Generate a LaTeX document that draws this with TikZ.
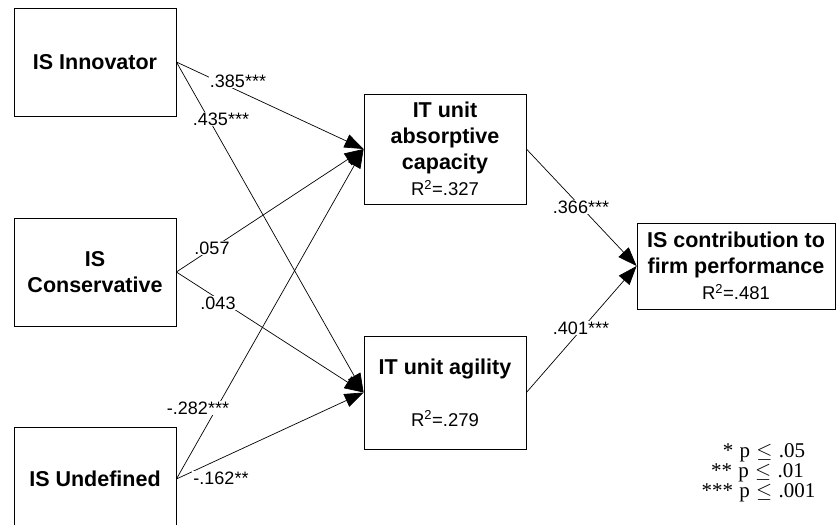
\documentclass[tikz,border=0pt]{standalone}
\usepackage{fontspec}
\setmainfont{Liberation Sans}
\newfontfamily\legendfont{Liberation Serif}
\newcommand\rsqtext{\fontsize{18.5}{26}\selectfont\mdseries}
\newcommand\lgsp{\hspace{0.3em}}
\usetikzlibrary{arrows.meta}
\tikzset{
  box/.style={draw=black, line width=0.8pt, rectangle, minimum width=162pt, inner sep=0pt,
    align=center, font=\fontsize{21.5}{26}\selectfont\bfseries},
  arr/.style={draw=black, line width=0.7pt, -{Triangle[length=19pt,width=14pt]}},
  coef/.style={fill=white, inner sep=1pt, font=\fontsize{18}{20}\selectfont},
  legendtxt/.style={inner sep=0pt, font=\legendfont\fontsize{21}{20}\selectfont}
}
\begin{document}
\begin{tikzpicture}[x=1pt,y=-1pt]
\useasboundingbox (0,0) rectangle (836,525);
\clip (0,0) rectangle (836,525);
\fill[white] (0,0) rectangle (836,525);

\node[box, minimum height=108pt] (inn) at (95,62) {IS Innovator};
\node[box, minimum height=108pt] (con) at (95,272) {IS\\Conservative};
\node[box, minimum height=104pt] (und) at (95,479) {IS Undefined};
\node[box, minimum height=110pt] (abs) at (445,149) {IT unit\\absorptive\\capacity\\{\rsqtext R\textsuperscript{2}=.327}};
\node[box, minimum height=113pt] (agi) at (445,392.5) {IT unit agility\\[26pt]{\rsqtext R\textsuperscript{2}=.279}};
\node[box, minimum width=198pt, minimum height=86pt] (isc) at (736,266) {IS contribution to\\firm performance\\{\rsqtext R\textsuperscript{2}=.481}};

\draw[arr] (inn.east) -- (abs.west);
\draw[arr] (inn.east) -- (agi.west);
\draw[arr] (con.east) -- (abs.west);
\draw[arr] (con.east) -- (agi.west);
\draw[arr] (und.east) -- (abs.west);
\draw[arr] (und.east) -- (agi.west);
\draw[arr] (abs.east) -- (isc.west);
\draw[arr] (agi.east) -- (isc.west);

\node[coef] (c1) at (238,81) {.385***};
\node[coef] (c2) at (221,119) {.435***};
\node[coef] (c3) at (212,248) {.057};
\node[coef] (c4) at (218,303) {.043};
\node[coef] (c5) at (198,408) {-.282***};
\node[coef] (c6) at (221,478) {-.162**};
\node[coef] (c7) at (581,207) {.366***};
\node[coef] (c8) at (581,328) {.401***};

\node[legendtxt] (l1) at (764,453) {*\lgsp p\lgsp$\leq$\lgsp.05};
\node[legendtxt] (l2) at (757.5,473) {**\lgsp p\lgsp$\leq$\lgsp.01};
\node[legendtxt] (l3) at (758.5,493) {***\lgsp p\lgsp$\leq$\lgsp.001};
\end{tikzpicture}
\end{document}
